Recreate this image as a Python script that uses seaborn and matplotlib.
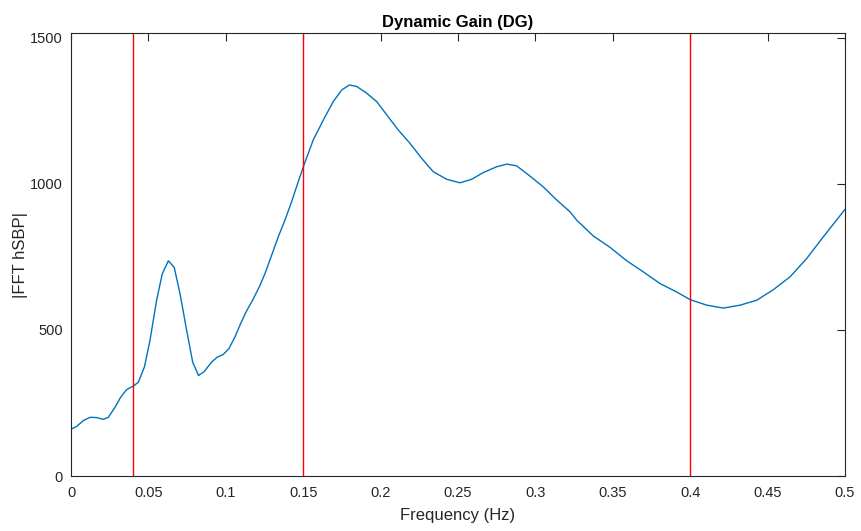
import numpy as np
import pandas as pd
import matplotlib
matplotlib.use("Agg")
import matplotlib.pyplot as plt
import seaborn as sns
from matplotlib.ticker import FuncFormatter

freq = [0.0, 0.0037, 0.008, 0.0123, 0.0166, 0.0209, 0.0241, 0.0284, 0.0321, 0.036,
        0.0403, 0.0435, 0.0474, 0.051, 0.0553, 0.059, 0.0629, 0.0667, 0.0704, 0.0747,
        0.0786, 0.0824, 0.0861, 0.0908, 0.0945, 0.0983, 0.102, 0.1059, 0.1091, 0.113,
        0.1173, 0.1216, 0.1253, 0.1296, 0.1339, 0.1382, 0.1425, 0.1468, 0.1505, 0.1565,
        0.163, 0.1694, 0.1749, 0.1798, 0.1845, 0.191, 0.1975, 0.2039, 0.2114, 0.219,
        0.2265, 0.234, 0.2427, 0.2513, 0.2588, 0.2663, 0.275, 0.2815, 0.2879, 0.2965,
        0.3051, 0.3138, 0.3223, 0.3267, 0.3374, 0.3482, 0.359, 0.3697, 0.3805, 0.3913,
        0.3999, 0.4107, 0.4214, 0.4322, 0.443, 0.4537, 0.4645, 0.4753, 0.486, 0.5]
gain = [160, 170, 190, 201, 200, 194, 201, 235, 270, 296,
        308, 321, 373, 464, 602, 693, 737, 714, 625, 499,
        390, 344, 358, 390, 407, 416, 436, 476, 516, 561,
        602, 647, 693, 756, 819, 876, 939, 1008, 1065, 1151,
        1219, 1282, 1322, 1339, 1334, 1311, 1282, 1237, 1185, 1139,
        1088, 1042, 1016, 1004, 1016, 1039, 1059, 1068, 1062, 1027,
        990, 945, 905, 876, 822, 783, 737, 699, 659, 630,
        604, 585, 575, 585, 602, 638, 682, 745, 819, 913]
band_edges = [0.04, 0.15, 0.4]
x_ticks = [0, 0.05, 0.1, 0.15, 0.2, 0.25, 0.3, 0.35, 0.4, 0.45, 0.5]
y_ticks = [0, 500, 1000, 1500]

sns.set_theme(style="white")
plt.rcParams['font.family'] = ['Liberation Sans', 'DejaVu Sans']
axc = (0.15, 0.15, 0.15)

fig = plt.figure(figsize=(8.61, 5.31), dpi=100)
ax = fig.add_axes([71/861, 55/531, (845-71)/861, (476-33)/531])

df = pd.DataFrame({"Frequency": freq, "Gain": gain})
sns.lineplot(data=df, x="Frequency", y="Gain", ax=ax, color=(0, 0.447, 0.741), linewidth=1.0)
for b in band_edges:
    ax.axvline(b, color=(1, 0, 0), linewidth=1.0)

ax.set_xlim(0, 0.5)
ax.set_ylim(0, 1517)
ax.set_xticks(x_ticks)
ax.set_yticks(y_ticks)
ax.xaxis.set_major_formatter(FuncFormatter(lambda v, p: ("%g" % round(v, 3))))
ax.tick_params(direction="in", length=5.5, width=0.8, top=True, right=True,
               colors=axc, labelsize=10.5, labelcolor=axc)
ax.tick_params(axis="x", pad=7)
ax.tick_params(axis="y", pad=6)
for s in ax.spines.values():
    s.set_visible(True)
    s.set_color(axc)
    s.set_linewidth(0.8)
ax.set_xlabel("Frequency (Hz)", fontsize=12, color=axc, labelpad=6)
ax.set_ylabel("|FFT hSBP|", fontsize=12, color=axc, labelpad=1)
ax.set_title("Dynamic Gain (DG)", fontsize=12, fontweight="bold", color="black", pad=4.5)

fig.savefig("out.png", dpi=100, facecolor="white")
